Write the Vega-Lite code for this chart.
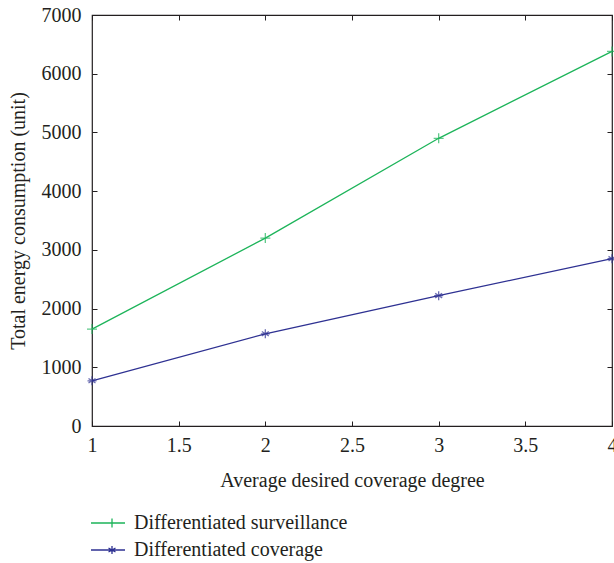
{
  "$schema": "https://vega.github.io/schema/vega-lite/v6.json",
  "width": 520,
  "height": 411,
  "autosize": {"type": "none"},
  "padding": {"left": 92, "top": 15, "right": 2, "bottom": 137},
  "background": "white",
  "config": {
    "font": "Liberation Serif",
    "view": {"stroke": "#231f20", "strokeWidth": 1.2},
    "axis": {
      "grid": false,
      "domain": false,
      "tickSize": -5,
      "tickColor": "#231f20",
      "tickWidth": 1,
      "labelFont": "Liberation Serif",
      "labelFontSize": 20,
      "labelColor": "#231f20",
      "titleFont": "Liberation Serif",
      "titleFontSize": 20,
      "titleFontWeight": "normal",
      "titleColor": "#231f20"
    },
    "legend": {
      "labelFont": "Liberation Serif",
      "labelFontSize": 20,
      "labelColor": "#231f20"
    }
  },
  "data": {
    "values": [
      {"degree": 1, "energy": 1650, "series": "Differentiated surveillance"},
      {"degree": 2, "energy": 3200, "series": "Differentiated surveillance"},
      {"degree": 3, "energy": 4900, "series": "Differentiated surveillance"},
      {"degree": 4, "energy": 6380, "series": "Differentiated surveillance"},
      {"degree": 1, "energy": 770, "series": "Differentiated coverage"},
      {"degree": 2, "energy": 1570, "series": "Differentiated coverage"},
      {"degree": 3, "energy": 2220, "series": "Differentiated coverage"},
      {"degree": 4, "energy": 2850, "series": "Differentiated coverage"}
    ]
  },
  "layer": [
    {
      "mark": {"type": "line", "strokeWidth": 1.3, "clip": false},
      "encoding": {
        "x": {
          "field": "degree", "type": "quantitative",
          "scale": {"domain": [1, 4], "nice": false, "zero": false},
          "axis": {"orient": "bottom", "values": [1, 1.5, 2, 2.5, 3, 3.5, 4], "format": "~g", "title": "Average desired coverage degree", "labelPadding": 14, "titlePadding": 15, "labelFlush": false, "labelOverlap": false}
        },
        "y": {
          "field": "energy", "type": "quantitative",
          "scale": {"domain": [0, 7000], "nice": false},
          "axis": {"orient": "left", "values": [0, 1000, 2000, 3000, 4000, 5000, 6000, 7000], "format": "d", "title": "Total energy consumption (unit)", "labelPadding": 16, "titlePadding": 13}
        },
        "color": {
          "field": "series", "type": "nominal",
          "scale": {"domain": ["Differentiated surveillance", "Differentiated coverage"], "range": ["#1db45a", "#2e3192"]},
          "legend": {
            "orient": "none",
            "legendX": -1,
            "legendY": 497,
            "title": null,
            "padding": 0,
            "rowPadding": 6,
            "labelLimit": 400,
            "labelOffset": 21,
            "symbolSize": 400,
            "symbolStrokeWidth": 1.3,
            "symbolType": "M-1.1,0H2.3",
            "encode": {
              "symbols": {
                "update": {
                  "size": {"value": 400},
                  "fill": {"value": "transparent"},
                  "shape": {"signal": "datum.value === 'Differentiated surveillance' ? 'M-1.1,0H2.3M1,-0.45V0.45' : 'M-1.1,0H2.3M1,-0.4V0.4M0.65,-0.2L1.35,0.2M0.65,0.2L1.35,-0.2'"}
                }
              }
            }
          }
        }
      }
    },
    {
      "transform": [{"filter": "datum.series === 'Differentiated surveillance'"}],
      "mark": {"type": "point", "filled": false, "strokeWidth": 1.3, "size": 100, "clip": false, "shape": "M-1,0H1M0,-1V1"},
      "encoding": {
        "x": {"field": "degree", "type": "quantitative", "axis": null},
        "y": {"field": "energy", "type": "quantitative", "axis": null},
        "color": {"field": "series", "type": "nominal", "legend": null}
      }
    },
    {
      "transform": [{"filter": "datum.series === 'Differentiated coverage'"}],
      "mark": {"type": "point", "filled": false, "strokeWidth": 1.3, "size": 100, "clip": false, "shape": "M-0.9,0H0.9M0,-0.9V0.9M-0.7,-0.45L0.7,0.45M-0.7,0.45L0.7,-0.45"},
      "encoding": {
        "x": {"field": "degree", "type": "quantitative", "axis": null},
        "y": {"field": "energy", "type": "quantitative", "axis": null},
        "color": {"field": "series", "type": "nominal", "legend": null}
      }
    },
    {
      "mark": {"type": "point", "opacity": 0},
      "encoding": {
        "x": {"field": "degree", "type": "quantitative", "axis": {"orient": "top", "values": [1, 1.5, 2, 2.5, 3, 3.5, 4], "labels": false, "title": null}},
        "y": {"field": "energy", "type": "quantitative", "axis": {"orient": "right", "values": [0, 1000, 2000, 3000, 4000, 5000, 6000, 7000], "labels": false, "title": null}}
      }
    }
  ],
  "resolve": {"axis": {"x": "independent", "y": "independent"}}
}
